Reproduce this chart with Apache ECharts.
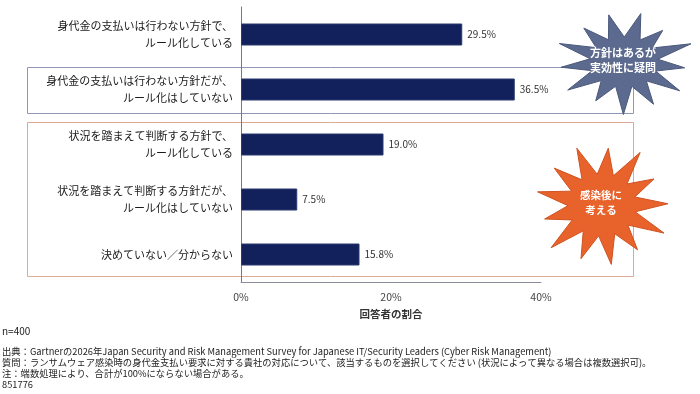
<!DOCTYPE html>
<html>
<head>
<meta charset="utf-8">
<script src="https://cdn.jsdelivr.net/npm/echarts@6/dist/echarts.min.js"></script>
<style>
html,body{margin:0;padding:0;background:#fff;}
#c{width:700px;height:394px;}
</style>
</head>
<body>
<div id="c"></div>
<script>
const categories = [
  '身代金の支払いは行わない方針で、\nルール化している',
  '身代金の支払いは行わない方針だが、\nルール化はしていない',
  '状況を踏まえて判断する方針で、\nルール化している',
  '状況を踏まえて判断する方針だが、\nルール化はしていない',
  '決めていない／分からない'
];
const values = [29.5, 36.5, 19.0, 7.5, 15.8];
const axisTitle = '回答者の割合';
const notes = [
  'n=400',
  '出典：Gartnerの2026年Japan Security and Risk Management Survey for Japanese IT/Security Leaders (Cyber Risk Management)',
  '質問：ランサムウェア感染時の身代金支払い要求に対する貴社の対応について、該当するものを選択してください (状況によって異なる場合は複数選択可)。',
  '注：端数処理により、合計が100%にならない場合がある。',
  '851776'
];
const star1Text = '方針はあるが\n実効性に疑問';
const star2Text = '感染後に\n考える';

const FONT = '"Noto Sans CJK JP", "Noto Sans", sans-serif';

function starPoints(cx, cy, n, orx, ory, irx, iry, rot, jitter) {
  const pts = [];
  for (let i = 0; i < n * 2; i++) {
    const a = rot + Math.PI * i / n;
    const outer = i % 2 === 0;
    const j = outer ? (jitter[(i / 2) % jitter.length]) : 1;
    const rx = outer ? orx * j : irx;
    const ry = outer ? ory * j : iry;
    pts.push([cx + rx * Math.cos(a), cy + ry * Math.sin(a)]);
  }
  return pts;
}

const chart = echarts.init(document.getElementById('c'), null, {renderer: 'canvas'});
chart.setOption({
  animation: false,
  textStyle: {fontFamily: FONT},
  grid: {left: 241, right: 159, top: 7, bottom: 112, containLabel: false},
  xAxis: {
    type: 'value', min: 0, max: 40, interval: 20,
    axisLine: {show: true, lineStyle: {color: '#8b8f9c', width: 1}},
    axisTick: {show: false},
    splitLine: {show: false},
    axisLabel: {formatter: '{value}%', color: '#444', fontSize: 10.5, margin: 10, fontFamily: FONT},
    name: axisTitle, nameLocation: 'middle', nameGap: 27,
    nameTextStyle: {color: '#333', fontSize: 10.5, fontWeight: 'bold', fontFamily: FONT}
  },
  yAxis: {
    type: 'category', data: categories, inverse: true,
    axisLine: {show: true, lineStyle: {color: '#6f7794', width: 1}},
    axisTick: {show: false},
    axisLabel: {color: '#1a1a1a', fontSize: 11, lineHeight: 17, margin: 8, align: 'right', fontFamily: FONT}
  },
  series: [{
    type: 'bar', data: values, barWidth: 22, z: 5,
    itemStyle: {color: '#12205c', borderColor: '#2c3a72', borderWidth: 1},
    label: {show: true, position: 'right', distance: 5, color: '#333', fontSize: 10,
      formatter: p => p.value.toFixed(1) + '%', fontFamily: FONT}
  }],
  graphic: [
    {type: 'rect', z: 0, shape: {x: 27.5, y: 67.5, width: 606, height: 46},
      style: {fill: 'none', stroke: '#8e97b5', lineWidth: 1}},
    {type: 'rect', z: 0, shape: {x: 27.5, y: 122.5, width: 606, height: 154},
      style: {fill: 'none', stroke: '#dca996', lineWidth: 1}},
    {type: 'polygon', z: 10,
      shape: {points: starPoints(624, 62, 13, 68, 50, 34, 25, -Math.PI / 2 + 0.25, [1, 0.85, 1.05, 0.9, 1, 0.95, 1.05, 0.88, 1, 0.93, 1.02, 0.9, 0.97])},
      style: {fill: '#5b6a8e', stroke: '#4a587a', lineWidth: 1}},
    {type: 'text', z: 11, x: 623, y: 60,
      style: {text: star1Text, fill: '#fff', font: 'bold 11px ' + FONT, textAlign: 'center', textVerticalAlign: 'middle', lineHeight: 15}},
    {type: 'polygon', z: 10,
      shape: {points: starPoints(602, 205, 13, 66, 60, 34, 31, -Math.PI / 2 + 0.1, [0.95, 1.05, 0.9, 1, 1.05, 0.92, 1, 0.95, 1.05, 0.9, 1, 0.95, 1.02])},
      style: {fill: '#e8622c', stroke: '#cf5220', lineWidth: 1}},
    {type: 'text', z: 11, x: 601, y: 203,
      style: {text: star2Text, fill: '#fff', font: 'bold 10.5px ' + FONT, textAlign: 'center', textVerticalAlign: 'middle', lineHeight: 15}},
    {type: 'text', left: 2, top: 326,
      style: {text: notes[0], fill: '#222', font: '10px ' + FONT}},
    {type: 'text', left: 2, top: 346,
      style: {text: notes.slice(1).join('\n'), fill: '#222', font: '9.3px ' + FONT, lineHeight: 11}}
  ]
});
</script>
</body>
</html>
